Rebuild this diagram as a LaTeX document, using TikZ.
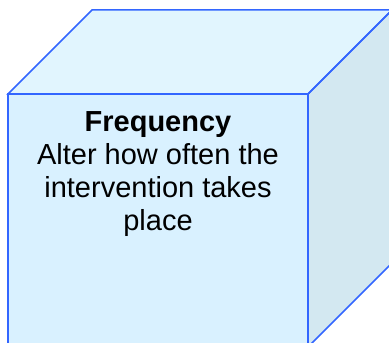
\documentclass[tikz,border=0pt]{standalone}
\usepackage{fontspec}
\setmainfont{Liberation Sans}
\definecolor{frontc}{HTML}{D9F1FF}
\definecolor{topc}{HTML}{E1F5FE}
\definecolor{sidec}{HTML}{D3E8F1}
\definecolor{edgec}{HTML}{3366FF}
\tikzset{face/.style={draw=edgec, line width=1.5pt, line join=miter}}
\begin{document}
\begin{tikzpicture}[x=1pt,y=1pt]
\useasboundingbox (0,0) rectangle (389,343);
\clip (0,0) rectangle (389,343);
% cube corners (y = 343 - image y)
\coordinate (ftl) at (8,249);
\coordinate (ftr) at (308,249);
\coordinate (fbl) at (8,-4);
\coordinate (fbr) at (308,-4);
\coordinate (btl) at (92,333);
\coordinate (btr) at (392,333);
\coordinate (bbr) at (392,80);
\fill[topc] (ftl) -- (btl) -- (btr) -- (ftr) -- cycle;
\fill[sidec] (ftr) -- (btr) -- (bbr) -- (fbr) -- cycle;
\fill[frontc] (ftl) -- (ftr) -- (fbr) -- (fbl) -- cycle;
\draw[face] (ftl) -- (btl) -- (btr) -- (ftr) -- cycle;
\draw[face] (ftr) -- (btr) -- (bbr) -- (fbr) -- cycle;
\draw[face] (ftl) -- (ftr) -- (fbr) -- (fbl) -- cycle;
\node[anchor=north, inner sep=0pt, align=center, font=\fontsize{29}{33}\selectfont] (txt) at (158,232)
  {\textbf{Frequency}\\Alter how often the\\intervention takes\\place};
\end{tikzpicture}
\end{document}
